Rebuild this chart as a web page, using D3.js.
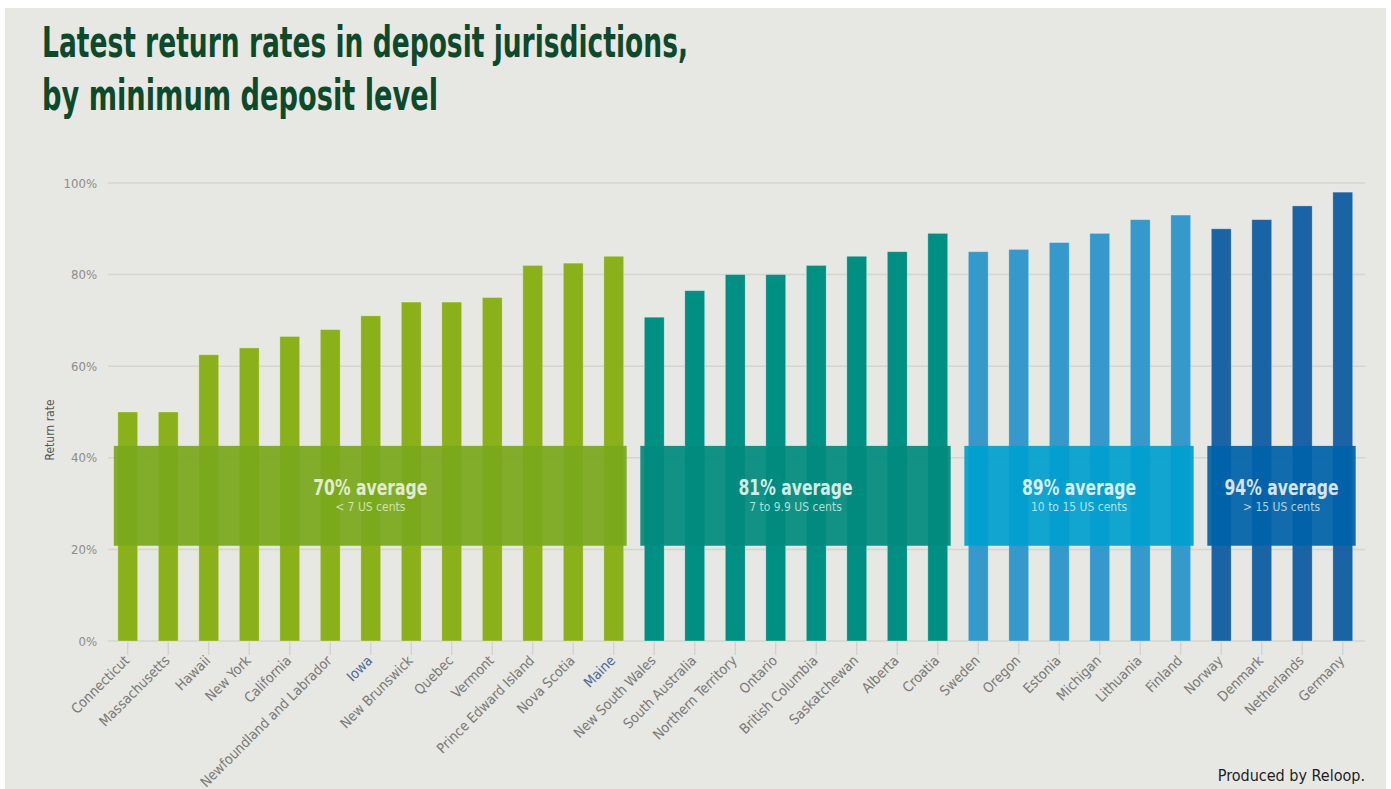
<!DOCTYPE html>
<html>
<head>
<meta charset="utf-8">
<script src="https://cdn.jsdelivr.net/npm/d3@7"></script>
<style>
  html, body { margin: 0; padding: 0; background: #ffffff; }
  svg { display: block; }
  text { font-family: "Liberation Sans Narrow", "DejaVu Sans Condensed", "Liberation Sans", sans-serif; }
</style>
</head>
<body>
<svg id="chart" width="1391" height="789"></svg>
<script>
// ---------------- data ----------------
const jurisdictions = [
  "Connecticut", "Massachusetts", "Hawaii", "New York", "California",
  "Newfoundland and Labrador", "Iowa", "New Brunswick", "Quebec", "Vermont",
  "Prince Edward Island", "Nova Scotia", "Maine",
  "New South Wales", "South Australia", "Northern Territory", "Ontario",
  "British Columbia", "Saskatchewan", "Alberta", "Croatia",
  "Sweden", "Oregon", "Estonia", "Michigan", "Lithuania", "Finland",
  "Norway", "Denmark", "Netherlands", "Germany"
];
const returnRates = [
  50, 50, 62.5, 64, 66.5, 68, 71, 74, 74, 75, 82, 82.5, 84,
  70.7, 76.5, 80, 80, 82, 84, 85, 89,
  85, 85.5, 87, 89, 92, 93,
  90, 92, 95, 98
];
const depositGroup = [
  0,0,0,0,0,0,0,0,0,0,0,0,0,
  1,1,1,1,1,1,1,1,
  2,2,2,2,2,2,
  3,3,3,3
];
const groupAverages = ["70% average", "81% average", "89% average", "94% average"];
const groupDeposits = ["< 7 US cents", "7 to 9.9 US cents", "10 to 15 US cents", "> 15 US cents"];
const highlightedLabels = ["Iowa", "Maine"];
const yTicks = [0, 20, 40, 60, 80, 100];

// ---------------- styles ----------------
const barColors = ["#8bb11a", "#009083", "#3599cb", "#1a64a5"];
const boxColors = ["#78a81d", "#008b7e", "#009fcd", "#0062aa"];
const boxText = ["#e2ebcf", "#d3ebe6", "#d9eef7", "#d6e3f1"];

const svg = d3.select("#chart");
const W = 1391, H = 789;

// background panel
svg.append("rect").attr("x", 5).attr("y", 8).attr("width", 1381).attr("height", H - 8)
  .attr("fill", "#e7e7e3");

// title
const title = svg.append("g").attr("fill", "#0c4a2b").attr("font-weight", "bold");
title.append("text").attr("x", 42).attr("y", 57).attr("font-size", 42)
  .attr("textLength", 646).attr("lengthAdjust", "spacingAndGlyphs")
  .text("Latest return rates in deposit jurisdictions,");
title.append("text").attr("x", 42).attr("y", 110).attr("font-size", 42)
  .attr("textLength", 396).attr("lengthAdjust", "spacingAndGlyphs")
  .text("by minimum deposit level");

// scales
const x = d3.scaleBand().domain(jurisdictions).range([107.5, 1363])
  .paddingInner(0.51).paddingOuter(0.255);
const y = d3.scaleLinear().domain([0, 100]).range([641, 183]);

// gridlines
svg.append("g").selectAll("line").data(yTicks).join("line")
  .attr("x1", 108).attr("x2", 1365)
  .attr("y1", d => y(d)).attr("y2", d => y(d))
  .attr("stroke", "#d6d6d0").attr("stroke-width", 1.5);

// y axis labels
const yAxis = d3.axisLeft(y).tickValues(yTicks).tickFormat(d => d + "%").tickSize(0).tickPadding(0);
const gy = svg.append("g").attr("transform", "translate(97,0)").call(yAxis);
gy.select(".domain").remove();
gy.selectAll("text").attr("font-size", 13).attr("fill", "#8d8d8a")
  .attr("font-family", "Liberation Sans Narrow, DejaVu Sans Condensed, sans-serif");

svg.append("text").attr("transform", "translate(54,430) rotate(-90)")
  .attr("text-anchor", "middle").attr("font-size", 12).attr("fill", "#555555")
  .text("Return rate");

// x axis ticks + labels
const xAxis = d3.axisBottom(x).tickSize(13).tickPadding(0);
const gx = svg.append("g").attr("transform", "translate(0,642)").call(xAxis);
gx.select(".domain").remove();
gx.selectAll(".tick line").attr("stroke", "#d0d0ca").attr("stroke-width", 1.2);
gx.selectAll(".tick text")
  .attr("text-anchor", "end")
  .attr("transform", "translate(-1,16) rotate(-45)")
  .attr("dy", "0.35em")
  .attr("y", 0)
  .attr("font-size", 14)
  .attr("fill", d => highlightedLabels.includes(d) ? "#4f6a9a" : "#7a7a78");

// bars
svg.append("g").selectAll("rect").data(jurisdictions).join("rect")
  .attr("x", d => x(d))
  .attr("width", x.bandwidth())
  .attr("y", (d, i) => y(returnRates[i]))
  .attr("height", (d, i) => y(0) - y(returnRates[i]))
  .attr("fill", (d, i) => barColors[depositGroup[i]])
  .attr("stroke", "rgba(255,255,255,0.35)").attr("stroke-width", 0.8);

// group boxes
const groupIdx = [0, 1, 2, 3];
const boxes = svg.append("g");
groupIdx.forEach(g => {
  const members = jurisdictions.filter((d, i) => depositGroup[i] === g);
  const x0 = x(members[0]) - 4;
  const x1 = x(members[members.length - 1]) + x.bandwidth() + 3;
  const top = y(42.6), bot = y(20.8);
  boxes.append("rect").attr("x", x0).attr("y", top).attr("width", x1 - x0).attr("height", bot - top)
    .attr("fill", boxColors[g]).attr("fill-opacity", 0.93);
  const cx = (x0 + x1) / 2;
  boxes.append("text").attr("x", cx).attr("y", top + 49).attr("text-anchor", "middle")
    .attr("font-size", 21).attr("font-weight", "bold").attr("fill", boxText[g])
    .attr("textLength", 114).attr("lengthAdjust", "spacingAndGlyphs")
    .text(groupAverages[g]);
  boxes.append("text").attr("x", cx).attr("y", top + 65).attr("text-anchor", "middle")
    .attr("font-size", 12).attr("fill", boxText[g]).attr("fill-opacity", 0.85)
    .text(groupDeposits[g]);
});

// credit
svg.append("text").attr("x", 1365).attr("y", 781).attr("text-anchor", "end")
  .attr("font-size", 16).attr("fill", "#1e1e1e")
  .text("Produced by Reloop.");
</script>
</body>
</html>
